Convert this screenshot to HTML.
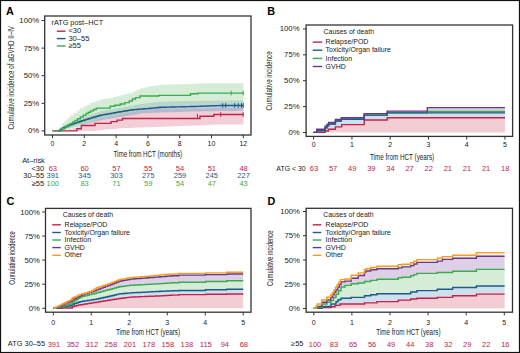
<!DOCTYPE html><html><head><meta charset="utf-8"><style>html,body{margin:0;padding:0;background:#fff}svg{display:block}text{font-family:"Liberation Sans",sans-serif}</style></head><body>
<svg width="520" height="353" viewBox="0 0 520 353">
<rect x="0" y="0" width="520" height="353" fill="#fff"/>
<text x="6.1" y="14.7" font-size="10.8" fill="#000" text-anchor="start" font-weight="bold">A</text>
<text x="267.3" y="14.8" font-size="10.8" fill="#000" text-anchor="start" font-weight="bold">B</text>
<text x="6.4" y="205.3" font-size="10.8" fill="#000" text-anchor="start" font-weight="bold">C</text>
<text x="267.4" y="205.4" font-size="10.8" fill="#000" text-anchor="start" font-weight="bold">D</text>
<path d="M62 130.9 L65 130.9 L65 130.12 L68 130.12 L68 129.34 L71 129.34 L71 128.56 L74 128.56 L74 127.78 L77 127.78 L77 127 L81.3 127 L81.3 122 L84.04 122 L84.04 121.2 L86.78 121.2 L86.78 120.4 L89.52 120.4 L89.52 119.6 L92.26 119.6 L92.26 118.8 L95 118.8 L95 118 L98.06 118 L98.06 117.33 L101.11 117.33 L101.11 116.67 L104.17 116.67 L104.17 116 L107.22 116 L107.22 115.33 L110.28 115.33 L110.28 114.67 L113.33 114.67 L113.33 114 L116.39 114 L116.39 113.33 L119.44 113.33 L119.44 112.67 L122.5 112.67 L122.5 112 L125.62 112 L125.62 111.71 L128.75 111.71 L128.75 111.42 L131.88 111.42 L131.88 111.12 L135 111.12 L135 110.83 L138.12 110.83 L138.12 110.54 L141.25 110.54 L141.25 110.25 L144.38 110.25 L144.38 109.96 L147.5 109.96 L147.5 109.67 L150.62 109.67 L150.62 109.38 L153.75 109.38 L153.75 109.08 L156.88 109.08 L156.88 108.79 L160 108.79 L160 108.5 L163.08 108.5 L163.08 108.48 L166.15 108.48 L166.15 108.47 L169.23 108.47 L169.23 108.45 L172.31 108.45 L172.31 108.44 L175.38 108.44 L175.38 108.42 L178.46 108.42 L178.46 108.41 L181.54 108.41 L181.54 108.39 L184.62 108.39 L184.62 108.38 L187.69 108.38 L187.69 108.36 L190.77 108.36 L190.77 108.35 L193.85 108.35 L193.85 108.33 L196.92 108.33 L196.92 108.32 L200 108.32 L200 108.3 L202.76 108.3 L202.76 108.2 L205.52 108.2 L205.52 108.1 L208.28 108.1 L208.28 108 L211.04 108 L211.04 107.9 L213.8 107.9 L213.8 107.8 L243.5 107.8 L243.5 124.5 L213.8 124.5 L213.8 124.77 L209.2 124.77 L209.2 125.03 L204.6 125.03 L204.6 125.3 L200 125.3 L200 125.44 L196.07 125.44 L196.07 125.59 L192.14 125.59 L192.14 125.73 L188.21 125.73 L188.21 125.87 L184.29 125.87 L184.29 126.01 L180.36 126.01 L180.36 126.16 L176.43 126.16 L176.43 126.3 L172.5 126.3 L172.5 126.44 L168.57 126.44 L168.57 126.59 L164.64 126.59 L164.64 126.73 L160.71 126.73 L160.71 126.87 L156.79 126.87 L156.79 127.01 L152.86 127.01 L152.86 127.16 L148.93 127.16 L148.93 127.3 L145 127.3 L145 127.45 L140.83 127.45 L140.83 127.6 L136.67 127.6 L136.67 127.75 L132.5 127.75 L132.5 127.9 L128.33 127.9 L128.33 128.05 L124.17 128.05 L124.17 128.2 L120 128.2 L120 128.54 L116 128.54 L116 128.88 L112 128.88 L112 129.22 L108 129.22 L108 129.56 L104 129.56 L104 129.9 L100 129.9 L100 130.4 L95 130.4 L95 130.9 L90 130.9Z" fill="#e8a7b4" fill-opacity="0.55"/>
<path d="M58 130.9 L62 130.9 L62 127 L64.67 127 L64.67 125.5 L67.33 125.5 L67.33 124 L70 124 L70 122.5 L73.33 122.5 L73.33 121 L76.67 121 L76.67 119.5 L80 119.5 L80 118 L82.86 118 L82.86 117 L85.71 117 L85.71 116 L88.57 116 L88.57 115 L91.43 115 L91.43 114 L94.29 114 L94.29 113 L97.14 113 L97.14 112 L100 112 L100 111 L103.08 111 L103.08 110.46 L106.15 110.46 L106.15 109.92 L109.23 109.92 L109.23 109.38 L112.31 109.38 L112.31 108.85 L115.38 108.85 L115.38 108.31 L118.46 108.31 L118.46 107.77 L121.54 107.77 L121.54 107.23 L124.62 107.23 L124.62 106.69 L127.69 106.69 L127.69 106.15 L130.77 106.15 L130.77 105.62 L133.85 105.62 L133.85 105.08 L136.92 105.08 L136.92 104.54 L140 104.54 L140 104 L142.86 104 L142.86 103.64 L145.71 103.64 L145.71 103.29 L148.57 103.29 L148.57 102.93 L151.43 102.93 L151.43 102.57 L154.29 102.57 L154.29 102.21 L157.14 102.21 L157.14 101.86 L160 101.86 L160 101.5 L163.08 101.5 L163.08 101.45 L166.15 101.45 L166.15 101.39 L169.23 101.39 L169.23 101.34 L172.31 101.34 L172.31 101.28 L175.38 101.28 L175.38 101.23 L178.46 101.23 L178.46 101.18 L181.54 101.18 L181.54 101.12 L184.62 101.12 L184.62 101.07 L187.69 101.07 L187.69 101.02 L190.77 101.02 L190.77 100.96 L193.85 100.96 L193.85 100.91 L196.92 100.91 L196.92 100.85 L200 100.85 L200 100.8 L203.07 100.8 L203.07 100.78 L206.14 100.78 L206.14 100.76 L209.21 100.76 L209.21 100.74 L212.29 100.74 L212.29 100.71 L215.36 100.71 L215.36 100.69 L218.43 100.69 L218.43 100.67 L221.5 100.67 L221.5 100.65 L224.57 100.65 L224.57 100.63 L227.64 100.63 L227.64 100.61 L230.71 100.61 L230.71 100.59 L233.79 100.59 L233.79 100.56 L236.86 100.56 L236.86 100.54 L239.93 100.54 L239.93 100.52 L243 100.52 L243 100.5 L243.5 100.5 L243.5 110.8 L243 110.8 L243 110.84 L239.93 110.84 L239.93 110.87 L236.86 110.87 L236.86 110.91 L233.79 110.91 L233.79 110.94 L230.71 110.94 L230.71 110.98 L227.64 110.98 L227.64 111.01 L224.57 111.01 L224.57 111.05 L221.5 111.05 L221.5 111.09 L218.43 111.09 L218.43 111.12 L215.36 111.12 L215.36 111.16 L212.29 111.16 L212.29 111.19 L209.21 111.19 L209.21 111.23 L206.14 111.23 L206.14 111.26 L203.07 111.26 L203.07 111.3 L200 111.3 L200 111.39 L196.92 111.39 L196.92 111.48 L193.85 111.48 L193.85 111.58 L190.77 111.58 L190.77 111.67 L187.69 111.67 L187.69 111.76 L184.62 111.76 L184.62 111.85 L181.54 111.85 L181.54 111.95 L178.46 111.95 L178.46 112.04 L175.38 112.04 L175.38 112.13 L172.31 112.13 L172.31 112.22 L169.23 112.22 L169.23 112.32 L166.15 112.32 L166.15 112.41 L163.08 112.41 L163.08 112.5 L160 112.5 L160 112.64 L157.14 112.64 L157.14 112.79 L154.29 112.79 L154.29 112.93 L151.43 112.93 L151.43 113.07 L148.57 113.07 L148.57 113.21 L145.71 113.21 L145.71 113.36 L142.86 113.36 L142.86 113.5 L140 113.5 L140 114 L136.92 114 L136.92 114.5 L133.85 114.5 L133.85 115 L130.77 115 L130.77 115.5 L127.69 115.5 L127.69 116 L124.62 116 L124.62 116.5 L121.54 116.5 L121.54 117 L118.46 117 L118.46 117.5 L115.38 117.5 L115.38 118 L112.31 118 L112.31 118.5 L109.23 118.5 L109.23 119 L106.15 119 L106.15 119.5 L103.08 119.5 L103.08 120 L100 120 L100 120.71 L97.14 120.71 L97.14 121.43 L94.29 121.43 L94.29 122.14 L91.43 122.14 L91.43 122.86 L88.57 122.86 L88.57 123.57 L85.71 123.57 L85.71 124.29 L82.86 124.29 L82.86 125 L80 125 L80 125.83 L76.67 125.83 L76.67 126.67 L73.33 126.67 L73.33 127.5 L70 127.5 L70 128.17 L67.33 128.17 L67.33 128.83 L64.67 128.83 L64.67 129.5 L62 129.5 L62 130.9 L58 130.9Z" fill="#7fa3c4" fill-opacity="0.5"/>
<path d="M57 130.9 L59.5 130.9 L59.5 126.95 L62 126.95 L62 123 L64.67 123 L64.67 120.4 L67.33 120.4 L67.33 117.8 L70 117.8 L70 115.2 L73.33 115.2 L73.33 112.9 L76.67 112.9 L76.67 110.6 L80 110.6 L80 108.3 L83.33 108.3 L83.33 106.53 L86.67 106.53 L86.67 104.77 L90 104.77 L90 103 L93.33 103 L93.33 101.87 L96.67 101.87 L96.67 100.73 L100 100.73 L100 99.6 L103.33 99.6 L103.33 99.03 L106.67 99.03 L106.67 98.47 L110 98.47 L110 97.9 L113.33 97.9 L113.33 97.03 L116.67 97.03 L116.67 96.17 L120 96.17 L120 95.3 L123.33 95.3 L123.33 94.43 L126.67 94.43 L126.67 93.57 L130 93.57 L130 92.7 L133.33 92.7 L133.33 91.27 L136.67 91.27 L136.67 89.83 L140 89.83 L140 88.4 L142.67 88.4 L142.67 87.77 L145.33 87.77 L145.33 87.13 L148 87.13 L148 86.5 L151 86.5 L151 86.08 L154 86.08 L154 85.65 L157 85.65 L157 85.22 L160 85.22 L160 84.8 L162.92 84.8 L162.92 84.72 L165.83 84.72 L165.83 84.63 L168.75 84.63 L168.75 84.55 L171.67 84.55 L171.67 84.47 L174.58 84.47 L174.58 84.38 L177.5 84.38 L177.5 84.3 L180.42 84.3 L180.42 84.22 L183.33 84.22 L183.33 84.13 L186.25 84.13 L186.25 84.05 L189.17 84.05 L189.17 83.97 L192.08 83.97 L192.08 83.88 L195 83.88 L195 83.8 L197.5 83.8 L197.5 83.55 L200 83.55 L200 83.3 L243 83.3 L243 83.3 L243.5 83.3 L243.5 104 L243 104 L243 104.04 L239.93 104.04 L239.93 104.07 L236.86 104.07 L236.86 104.11 L233.79 104.11 L233.79 104.14 L230.71 104.14 L230.71 104.18 L227.64 104.18 L227.64 104.21 L224.57 104.21 L224.57 104.25 L221.5 104.25 L221.5 104.29 L218.43 104.29 L218.43 104.32 L215.36 104.32 L215.36 104.36 L212.29 104.36 L212.29 104.39 L209.21 104.39 L209.21 104.43 L206.14 104.43 L206.14 104.46 L203.07 104.46 L203.07 104.5 L200 104.5 L200 104.62 L196.92 104.62 L196.92 104.73 L193.85 104.73 L193.85 104.85 L190.77 104.85 L190.77 104.96 L187.69 104.96 L187.69 105.08 L184.62 105.08 L184.62 105.19 L181.54 105.19 L181.54 105.31 L178.46 105.31 L178.46 105.42 L175.38 105.42 L175.38 105.54 L172.31 105.54 L172.31 105.65 L169.23 105.65 L169.23 105.77 L166.15 105.77 L166.15 105.88 L163.08 105.88 L163.08 106 L160 106 L160 106.62 L157 106.62 L157 107.25 L154 107.25 L154 107.88 L151 107.88 L151 108.5 L148 108.5 L148 109.12 L145 109.12 L145 109.75 L142 109.75 L142 110.38 L139 110.38 L139 111 L136 111 L136 111.62 L133 111.62 L133 112.25 L130 112.25 L130 112.88 L127 112.88 L127 113.5 L124 113.5 L124 114.12 L121 114.12 L121 114.75 L118 114.75 L118 115.38 L115 115.38 L115 116 L112 116 L112 116.62 L109 116.62 L109 117.25 L106 117.25 L106 117.88 L103 117.88 L103 118.5 L100 118.5 L100 119.57 L97.14 119.57 L97.14 120.64 L94.29 120.64 L94.29 121.71 L91.43 121.71 L91.43 122.79 L88.57 122.79 L88.57 123.86 L85.71 123.86 L85.71 124.93 L82.86 124.93 L82.86 126 L80 126 L80 126.7 L76.86 126.7 L76.86 127.4 L73.71 127.4 L73.71 128.1 L70.57 128.1 L70.57 128.8 L67.43 128.8 L67.43 129.5 L64.29 129.5 L64.29 130.2 L61.14 130.2 L61.14 130.9 L58 130.9Z" fill="#b3dcb5" fill-opacity="0.55"/>
<path d="M52.5 130.9H76.9V128.7H81.3V125.5H95V123.4H111V121.6H117.1V120.1H122.5V118.5H200V116.2H213.8V114.5H243.5" fill="none" stroke="#c2234a" stroke-width="1.4" stroke-linejoin="miter"/>
<path d="M58 130.9H60V129.55H62V128.2H64V127.32H66V126.45H68V125.58H70V124.7H72V124.02H74V123.34H76V122.66H78V121.98H80V121.3H82V120.66H84V120.02H86V119.38H88V118.74H90V118.1H92V117.52H94V116.94H96V116.36H98V115.78H100V115.2H102V114.86H104V114.52H106V114.18H108V113.84H110V113.5H112V113.14H114V112.78H116V112.42H118V112.06H120V111.7H122V111.36H124V111.02H126V110.68H128V110.34H130V110H132V109.82H134V109.64H136V109.46H138V109.28H140V109.1H142V108.95H144V108.8H146V108.65H148V108.5H150V108.3H152V108.1H154V107.9H156V107.7H158V107.5H160V107.3H162V107.25H164V107.2H166V107.15H168V107.1H170V107.05H172V107H174V106.95H176V106.9H178V106.85H180V106.8H182V106.75H184V106.7H186V106.65H188V106.6H190V106.55H192V106.5H194V106.45H196V106.4H198V106.35H200V106.3H202V106.22H204V106.14H206V106.06H208V105.98H210V105.9H212V105.82H214V105.74H216V105.66H218V105.58H220V105.5H243.5" fill="none" stroke="#1d5a88" stroke-width="1.4" stroke-linejoin="miter"/>
<path d="M52.5 130.9H61.75V128.7H65V126.5H67.5V125.05H70V123.6H72.5V121.97H75V120.33H77.5V118.7H80.33V116.97H83.17V115.23H86V113.5H88.35V112.2H90.7V110.9H93.5V109.5H96.3V108.1H110.2V106.3H114.8V105.2H120.2V104H124.8V102.6H129.3V101H132.4V99H135.5V97.6H140V96H158.8V95.4H190.5V93.8H198V93.1H243.5" fill="none" stroke="#3aab4f" stroke-width="1.4" stroke-linejoin="miter"/>
<line x1="220.7" y1="112.2" x2="220.7" y2="116.8" stroke="#c2234a" stroke-width="1"/>
<line x1="243.2" y1="112.2" x2="243.2" y2="116.8" stroke="#c2234a" stroke-width="1"/>
<line x1="197.4" y1="113.9" x2="197.4" y2="118.5" stroke="#c2234a" stroke-width="1"/>
<line x1="222.7" y1="103.2" x2="222.7" y2="107.8" stroke="#1d5a88" stroke-width="1"/>
<line x1="225.7" y1="103.2" x2="225.7" y2="107.8" stroke="#1d5a88" stroke-width="1"/>
<line x1="234.6" y1="103.2" x2="234.6" y2="107.8" stroke="#1d5a88" stroke-width="1"/>
<line x1="238.2" y1="103.2" x2="238.2" y2="107.8" stroke="#1d5a88" stroke-width="1"/>
<line x1="241.5" y1="103.2" x2="241.5" y2="107.8" stroke="#1d5a88" stroke-width="1"/>
<line x1="243.2" y1="103.2" x2="243.2" y2="107.8" stroke="#1d5a88" stroke-width="1"/>
<line x1="231.2" y1="90.8" x2="231.2" y2="95.4" stroke="#3aab4f" stroke-width="1"/>
<line x1="243.2" y1="90.8" x2="243.2" y2="95.4" stroke="#3aab4f" stroke-width="1"/>
<rect x="44.7" y="16" width="206.3" height="119" fill="none" stroke="#333333" stroke-width="1.3"/>
<line x1="41.5" y1="130.9" x2="44.7" y2="130.9" stroke="#333333" stroke-width="1"/>
<text transform="translate(39.2,133.4) scale(1.05,1)" font-size="7.4" fill="#222222" text-anchor="end">0%</text>
<line x1="41.5" y1="103.3" x2="44.7" y2="103.3" stroke="#333333" stroke-width="1"/>
<text transform="translate(39.2,105.8) scale(1.05,1)" font-size="7.4" fill="#222222" text-anchor="end">25%</text>
<line x1="41.5" y1="75.7" x2="44.7" y2="75.7" stroke="#333333" stroke-width="1"/>
<text transform="translate(39.2,78.2) scale(1.05,1)" font-size="7.4" fill="#222222" text-anchor="end">50%</text>
<line x1="41.5" y1="48.1" x2="44.7" y2="48.1" stroke="#333333" stroke-width="1"/>
<text transform="translate(39.2,50.6) scale(1.05,1)" font-size="7.4" fill="#222222" text-anchor="end">75%</text>
<line x1="41.5" y1="20.5" x2="44.7" y2="20.5" stroke="#333333" stroke-width="1"/>
<text transform="translate(39.2,23) scale(1.05,1)" font-size="7.4" fill="#222222" text-anchor="end">100%</text>
<line x1="52.5" y1="135" x2="52.5" y2="138.2" stroke="#333333" stroke-width="1"/>
<text x="52.5" y="146.3" font-size="7" fill="#222222" text-anchor="middle" font-weight="normal">0</text>
<line x1="84.3" y1="135" x2="84.3" y2="138.2" stroke="#333333" stroke-width="1"/>
<text x="84.3" y="146.3" font-size="7" fill="#222222" text-anchor="middle" font-weight="normal">2</text>
<line x1="116.1" y1="135" x2="116.1" y2="138.2" stroke="#333333" stroke-width="1"/>
<text x="116.1" y="146.3" font-size="7" fill="#222222" text-anchor="middle" font-weight="normal">4</text>
<line x1="147.9" y1="135" x2="147.9" y2="138.2" stroke="#333333" stroke-width="1"/>
<text x="147.9" y="146.3" font-size="7" fill="#222222" text-anchor="middle" font-weight="normal">6</text>
<line x1="179.7" y1="135" x2="179.7" y2="138.2" stroke="#333333" stroke-width="1"/>
<text x="179.7" y="146.3" font-size="7" fill="#222222" text-anchor="middle" font-weight="normal">8</text>
<line x1="211.5" y1="135" x2="211.5" y2="138.2" stroke="#333333" stroke-width="1"/>
<text x="211.5" y="146.3" font-size="7" fill="#222222" text-anchor="middle" font-weight="normal">10</text>
<line x1="243.3" y1="135" x2="243.3" y2="138.2" stroke="#333333" stroke-width="1"/>
<text x="243.3" y="146.3" font-size="7" fill="#222222" text-anchor="middle" font-weight="normal">12</text>
<text x="113.5" y="156.5" font-size="8.3" fill="#222222" text-anchor="start" font-weight="normal" textLength="68.6" lengthAdjust="spacingAndGlyphs">Time from HCT (months)</text>
<text transform="translate(13.9,77.7) rotate(-90)" x="0" y="0" font-size="9.8" fill="#222222" text-anchor="middle" textLength="103.4" lengthAdjust="spacingAndGlyphs">Cumulative incidence of aGVHD II–IV</text>
<text x="51.5" y="24.8" font-size="7.2" fill="#222222" text-anchor="start" font-weight="normal" textLength="51.6" lengthAdjust="spacingAndGlyphs">rATG post–HCT</text>
<line x1="56.8" y1="31.2" x2="65.5" y2="31.2" stroke="#c2234a" stroke-width="1.4"/>
<text x="68.4" y="33.3" font-size="7.6" fill="#222222" text-anchor="start" font-weight="normal">&lt;30</text>
<line x1="56.8" y1="38.6" x2="65.5" y2="38.6" stroke="#1d5a88" stroke-width="1.4"/>
<text x="68.4" y="40.7" font-size="7.6" fill="#222222" text-anchor="start" font-weight="normal">30–55</text>
<line x1="56.8" y1="46" x2="65.5" y2="46" stroke="#3aab4f" stroke-width="1.4"/>
<text x="68.4" y="48.1" font-size="7.6" fill="#222222" text-anchor="start" font-weight="normal">≥55</text>
<text x="22.2" y="162.7" font-size="7" fill="#222222" text-anchor="start" font-weight="normal" textLength="22.6" lengthAdjust="spacingAndGlyphs">At–risk</text>
<text x="44.2" y="170.6" font-size="7.5" fill="#222222" text-anchor="end" font-weight="normal">&lt;30</text>
<text x="44.2" y="178.3" font-size="7.5" fill="#222222" text-anchor="end" font-weight="normal">30–55</text>
<text x="44.2" y="186" font-size="7.5" fill="#222222" text-anchor="end" font-weight="normal">≥55</text>
<text x="52.8" y="170.6" font-size="7.5" fill="#c2234a" text-anchor="middle" font-weight="normal">63</text>
<text x="52.8" y="178.3" font-size="7.5" fill="#1d5a88" text-anchor="middle" font-weight="normal">391</text>
<text x="52.8" y="186" font-size="7.5" fill="#3aab4f" text-anchor="middle" font-weight="normal">100</text>
<text x="84.6" y="170.6" font-size="7.5" fill="#c2234a" text-anchor="middle" font-weight="normal">60</text>
<text x="84.6" y="178.3" font-size="7.5" fill="#1d5a88" text-anchor="middle" font-weight="normal">345</text>
<text x="84.6" y="186" font-size="7.5" fill="#3aab4f" text-anchor="middle" font-weight="normal">83</text>
<text x="116.4" y="170.6" font-size="7.5" fill="#c2234a" text-anchor="middle" font-weight="normal">57</text>
<text x="116.4" y="178.3" font-size="7.5" fill="#1d5a88" text-anchor="middle" font-weight="normal">303</text>
<text x="116.4" y="186" font-size="7.5" fill="#3aab4f" text-anchor="middle" font-weight="normal">71</text>
<text x="148.2" y="170.6" font-size="7.5" fill="#c2234a" text-anchor="middle" font-weight="normal">55</text>
<text x="148.2" y="178.3" font-size="7.5" fill="#1d5a88" text-anchor="middle" font-weight="normal">275</text>
<text x="148.2" y="186" font-size="7.5" fill="#3aab4f" text-anchor="middle" font-weight="normal">59</text>
<text x="180" y="170.6" font-size="7.5" fill="#c2234a" text-anchor="middle" font-weight="normal">54</text>
<text x="180" y="178.3" font-size="7.5" fill="#1d5a88" text-anchor="middle" font-weight="normal">259</text>
<text x="180" y="186" font-size="7.5" fill="#3aab4f" text-anchor="middle" font-weight="normal">54</text>
<text x="211.8" y="170.6" font-size="7.5" fill="#c2234a" text-anchor="middle" font-weight="normal">51</text>
<text x="211.8" y="178.3" font-size="7.5" fill="#1d5a88" text-anchor="middle" font-weight="normal">245</text>
<text x="211.8" y="186" font-size="7.5" fill="#3aab4f" text-anchor="middle" font-weight="normal">47</text>
<text x="243.6" y="170.6" font-size="7.5" fill="#c2234a" text-anchor="middle" font-weight="normal">48</text>
<text x="243.6" y="178.3" font-size="7.5" fill="#1d5a88" text-anchor="middle" font-weight="normal">227</text>
<text x="243.6" y="186" font-size="7.5" fill="#3aab4f" text-anchor="middle" font-weight="normal">43</text>
<path d="M313.6 132.4 L325.1 132.4 L325.1 131 L328.3 131 L328.3 129.3 L335.4 129.3 L335.4 126.9 L341.7 126.9 L341.7 124.6 L364.2 124.6 L364.2 120 L387.2 120 L387.2 117.7 L505 117.7 L505 132.4 L313.6 132.4Z" fill="#f2cdd4"/>
<path d="M313.6 132.4 L316.7 132.4 L316.7 130.8 L325.1 130.8 L325.1 127.7 L327 127.7 L327 125.8 L328.7 125.8 L328.7 124 L335.4 124 L335.4 121 L341.3 121 L341.3 119.2 L364.2 119.2 L364.2 115.1 L387.2 115.1 L387.2 112.9 L505 112.9 L505 117.7 L387.2 117.7 L387.2 120 L364.2 120 L364.2 124.6 L341.7 124.6 L341.7 126.9 L335.4 126.9 L335.4 129.3 L328.3 129.3 L328.3 131 L325.1 131 L325.1 132.4 L313.6 132.4Z" fill="#cfe0ec"/>
<path d="M313.6 132.4 L316.7 132.4 L316.7 130.8 L325.1 130.8 L325.1 127.7 L327 127.7 L327 125.8 L328.7 125.8 L328.7 124 L335.4 124 L335.4 121 L341.3 121 L341.3 119.2 L364.2 119.2 L364.2 115.1 L387.2 115.1 L387.2 112.9 L427.3 112.9 L427.3 111.5 L505 111.5 L505 112.9 L387.2 112.9 L387.2 115.1 L364.2 115.1 L364.2 119.2 L341.3 119.2 L341.3 121 L335.4 121 L335.4 124 L328.7 124 L328.7 125.8 L327 125.8 L327 127.7 L325.1 127.7 L325.1 130.8 L316.7 130.8 L316.7 132.4 L313.6 132.4Z" fill="#d5ecd6"/>
<path d="M313.6 132.4 L316.7 132.4 L316.7 129.3 L325.1 129.3 L325.1 126.2 L327 126.2 L327 124.3 L328.7 124.3 L328.7 122.5 L335.4 122.5 L335.4 119.5 L341.3 119.5 L341.3 117.7 L364.2 117.7 L364.2 113.6 L387.2 113.6 L387.2 111.1 L427.3 111.1 L427.3 107.6 L505 107.6 L505 111.5 L427.3 111.5 L427.3 112.9 L387.2 112.9 L387.2 115.1 L364.2 115.1 L364.2 119.2 L341.3 119.2 L341.3 121 L335.4 121 L335.4 124 L328.7 124 L328.7 125.8 L327 125.8 L327 127.7 L325.1 127.7 L325.1 130.8 L316.7 130.8 L316.7 132.4 L313.6 132.4Z" fill="#ddd0e6"/>
<path d="M313.6 132.4H325.1V131H328.3V129.3H335.4V126.9H341.7V124.6H364.2V120H387.2V117.7H505" fill="none" stroke="#c2234a" stroke-width="1.4" stroke-linejoin="miter"/>
<path d="M313.6 132.4H316.7V130.8H325.1V127.7H327V125.8H328.7V124H335.4V121H341.3V119.2H364.2V115.1H387.2V112.9H427.3V111.5H505" fill="none" stroke="#3aab4f" stroke-width="1.4" stroke-linejoin="miter"/>
<path d="M313.6 132.4H316.7V130.8H325.1V127.7H327V125.8H328.7V124H335.4V121H341.3V119.2H364.2V115.1H387.2V112.9H505" fill="none" stroke="#1d5a88" stroke-width="1.4" stroke-linejoin="miter"/>
<path d="M313.6 132.4H316.7V129.3H325.1V126.2H327V124.3H328.7V122.5H335.4V119.5H341.3V117.7H364.2V113.6H387.2V111.1H427.3V107.6H505" fill="none" stroke="#66398a" stroke-width="1.4" stroke-linejoin="miter"/>
<rect x="306.1" y="25" width="206.5" height="111.4" fill="none" stroke="#333333" stroke-width="1.3"/>
<line x1="303" y1="132.5" x2="306.2" y2="132.5" stroke="#333333" stroke-width="1"/>
<text transform="translate(299.6,135) scale(1.05,1)" font-size="7.4" fill="#222222" text-anchor="end">0%</text>
<line x1="303" y1="106.6" x2="306.2" y2="106.6" stroke="#333333" stroke-width="1"/>
<text transform="translate(299.6,109.1) scale(1.05,1)" font-size="7.4" fill="#222222" text-anchor="end">25%</text>
<line x1="303" y1="80.7" x2="306.2" y2="80.7" stroke="#333333" stroke-width="1"/>
<text transform="translate(299.6,83.2) scale(1.05,1)" font-size="7.4" fill="#222222" text-anchor="end">50%</text>
<line x1="303" y1="54.8" x2="306.2" y2="54.8" stroke="#333333" stroke-width="1"/>
<text transform="translate(299.6,57.3) scale(1.05,1)" font-size="7.4" fill="#222222" text-anchor="end">75%</text>
<line x1="303" y1="28.9" x2="306.2" y2="28.9" stroke="#333333" stroke-width="1"/>
<text transform="translate(299.6,31.4) scale(1.05,1)" font-size="7.4" fill="#222222" text-anchor="end">100%</text>
<line x1="313.7" y1="136.4" x2="313.7" y2="139.6" stroke="#333333" stroke-width="1"/>
<text x="313.7" y="147.4" font-size="7" fill="#222222" text-anchor="middle" font-weight="normal">0</text>
<line x1="351.95" y1="136.4" x2="351.95" y2="139.6" stroke="#333333" stroke-width="1"/>
<text x="351.95" y="147.4" font-size="7" fill="#222222" text-anchor="middle" font-weight="normal">1</text>
<line x1="390.2" y1="136.4" x2="390.2" y2="139.6" stroke="#333333" stroke-width="1"/>
<text x="390.2" y="147.4" font-size="7" fill="#222222" text-anchor="middle" font-weight="normal">2</text>
<line x1="428.45" y1="136.4" x2="428.45" y2="139.6" stroke="#333333" stroke-width="1"/>
<text x="428.45" y="147.4" font-size="7" fill="#222222" text-anchor="middle" font-weight="normal">3</text>
<line x1="466.7" y1="136.4" x2="466.7" y2="139.6" stroke="#333333" stroke-width="1"/>
<text x="466.7" y="147.4" font-size="7" fill="#222222" text-anchor="middle" font-weight="normal">4</text>
<line x1="504.95" y1="136.4" x2="504.95" y2="139.6" stroke="#333333" stroke-width="1"/>
<text x="504.95" y="147.4" font-size="7" fill="#222222" text-anchor="middle" font-weight="normal">5</text>
<text x="370" y="160.4" font-size="8.3" fill="#222222" text-anchor="start" font-weight="normal" textLength="64.2" lengthAdjust="spacingAndGlyphs">Time from HCT (years)</text>
<text transform="translate(272.4,80.95) rotate(-90)" x="0" y="0" font-size="9.4" fill="#222222" text-anchor="middle" textLength="59.1" lengthAdjust="spacingAndGlyphs">Cumulative incidence</text>
<text x="323.6" y="33.8" font-size="7" fill="#222222" text-anchor="start" font-weight="normal" textLength="50.4" lengthAdjust="spacingAndGlyphs">Causes of death</text>
<line x1="312.7" y1="42.1" x2="322.3" y2="42.1" stroke="#c2234a" stroke-width="1.4"/>
<text x="325.6" y="44.2" font-size="7" fill="#222222" text-anchor="start" font-weight="normal">Relapse/POD</text>
<line x1="312.7" y1="50.2" x2="322.3" y2="50.2" stroke="#1d5a88" stroke-width="1.4"/>
<text x="325.6" y="52.3" font-size="7" fill="#222222" text-anchor="start" font-weight="normal">Toxicity/Organ failure</text>
<line x1="312.7" y1="58.4" x2="322.3" y2="58.4" stroke="#3aab4f" stroke-width="1.4"/>
<text x="325.6" y="60.5" font-size="7" fill="#222222" text-anchor="start" font-weight="normal">Infection</text>
<line x1="312.7" y1="66.5" x2="322.3" y2="66.5" stroke="#66398a" stroke-width="1.4"/>
<text x="325.6" y="68.6" font-size="7" fill="#222222" text-anchor="start" font-weight="normal">GVHD</text>
<text x="276.3" y="170.5" font-size="7" fill="#222222" text-anchor="start" font-weight="normal" textLength="29.4" lengthAdjust="spacingAndGlyphs">ATG &lt; 30</text>
<text x="314" y="170.8" font-size="7.5" fill="#c2234a" text-anchor="middle" font-weight="normal">63</text>
<text x="333.12" y="170.8" font-size="7.5" fill="#c2234a" text-anchor="middle" font-weight="normal">57</text>
<text x="352.25" y="170.8" font-size="7.5" fill="#c2234a" text-anchor="middle" font-weight="normal">49</text>
<text x="371.38" y="170.8" font-size="7.5" fill="#c2234a" text-anchor="middle" font-weight="normal">39</text>
<text x="390.5" y="170.8" font-size="7.5" fill="#c2234a" text-anchor="middle" font-weight="normal">34</text>
<text x="409.62" y="170.8" font-size="7.5" fill="#c2234a" text-anchor="middle" font-weight="normal">27</text>
<text x="428.75" y="170.8" font-size="7.5" fill="#c2234a" text-anchor="middle" font-weight="normal">22</text>
<text x="447.88" y="170.8" font-size="7.5" fill="#c2234a" text-anchor="middle" font-weight="normal">21</text>
<text x="467" y="170.8" font-size="7.5" fill="#c2234a" text-anchor="middle" font-weight="normal">21</text>
<text x="486.12" y="170.8" font-size="7.5" fill="#c2234a" text-anchor="middle" font-weight="normal">21</text>
<text x="505.25" y="170.8" font-size="7.5" fill="#c2234a" text-anchor="middle" font-weight="normal">18</text>
<path d="M53.3 308.3 L55.39 308.3 L55.39 308.26 L57.47 308.26 L57.47 308.23 L59.56 308.23 L59.56 308.19 L61.65 308.19 L61.65 308.15 L63.74 308.15 L63.74 308.11 L65.83 308.11 L65.83 308.07 L67.91 308.07 L67.91 308.04 L70 308.04 L70 308 L72.3 308 L72.3 306.5 L74.22 306.5 L74.22 306.05 L76.15 306.05 L76.15 305.6 L78.08 305.6 L78.08 305.15 L80 305.15 L80 304.7 L82.33 304.7 L82.33 304.33 L84.66 304.33 L84.66 303.96 L86.99 303.96 L86.99 303.59 L89.31 303.59 L89.31 303.21 L91.64 303.21 L91.64 302.84 L93.97 302.84 L93.97 302.47 L96.3 302.47 L96.3 302.1 L98.6 302.1 L98.6 301.73 L100.9 301.73 L100.9 301.35 L103.2 301.35 L103.2 300.98 L105.5 300.98 L105.5 300.6 L107.72 300.6 L107.72 300.25 L109.93 300.25 L109.93 299.9 L112.15 299.9 L112.15 299.55 L114.37 299.55 L114.37 299.2 L116.58 299.2 L116.58 298.85 L118.8 298.85 L118.8 298.5 L121.04 298.5 L121.04 298.22 L123.28 298.22 L123.28 297.94 L125.52 297.94 L125.52 297.66 L127.76 297.66 L127.76 297.38 L130 297.38 L130 297.1 L132.13 297.1 L132.13 297.01 L134.27 297.01 L134.27 296.93 L136.4 296.93 L136.4 296.84 L138.53 296.84 L138.53 296.75 L140.67 296.75 L140.67 296.67 L142.8 296.67 L142.8 296.58 L144.93 296.58 L144.93 296.49 L147.07 296.49 L147.07 296.41 L149.2 296.41 L149.2 296.32 L151.33 296.32 L151.33 296.23 L153.47 296.23 L153.47 296.15 L155.6 296.15 L155.6 296.06 L157.73 296.06 L157.73 295.97 L159.87 295.97 L159.87 295.89 L162 295.89 L162 295.8 L164 295.8 L164 295.66 L166 295.66 L166 295.52 L168 295.52 L168 295.38 L170 295.38 L170 295.24 L172 295.24 L172 295.1 L178.8 295.1 L178.8 294.6 L205.5 294.6 L205.5 294.3 L226.7 294.3 L226.7 294 L243.2 294 L243.2 308.3 L53.3 308.3Z" fill="#f2cdd4"/>
<path d="M53.3 308.3 L55.53 308.3 L55.53 308.03 L57.77 308.03 L57.77 307.77 L60 307.77 L60 307.5 L62 307.5 L62 307.14 L64 307.14 L64 306.78 L66 306.78 L66 306.42 L68 306.42 L68 306.06 L70 306.06 L70 305.7 L72.3 305.7 L72.3 304.3 L74.22 304.3 L74.22 303.62 L76.15 303.62 L76.15 302.95 L78.08 302.95 L78.08 302.28 L80 302.28 L80 301.6 L82.33 301.6 L82.33 301.23 L84.66 301.23 L84.66 300.86 L86.99 300.86 L86.99 300.49 L89.31 300.49 L89.31 300.11 L91.64 300.11 L91.64 299.74 L93.97 299.74 L93.97 299.37 L96.3 299.37 L96.3 299 L98.6 299 L98.6 298.5 L100.9 298.5 L100.9 298 L103.2 298 L103.2 297.5 L105.5 297.5 L105.5 297 L107.72 297 L107.72 296.48 L109.93 296.48 L109.93 295.97 L112.15 295.97 L112.15 295.45 L114.37 295.45 L114.37 294.93 L116.58 294.93 L116.58 294.42 L118.8 294.42 L118.8 293.9 L121.04 293.9 L121.04 293.7 L123.28 293.7 L123.28 293.5 L125.52 293.5 L125.52 293.3 L127.76 293.3 L127.76 293.1 L130 293.1 L130 292.9 L132.13 292.9 L132.13 292.79 L134.27 292.79 L134.27 292.67 L136.4 292.67 L136.4 292.56 L138.53 292.56 L138.53 292.45 L140.67 292.45 L140.67 292.33 L142.8 292.33 L142.8 292.22 L144.93 292.22 L144.93 292.11 L147.07 292.11 L147.07 291.99 L149.2 291.99 L149.2 291.88 L151.33 291.88 L151.33 291.77 L153.47 291.77 L153.47 291.65 L155.6 291.65 L155.6 291.54 L157.73 291.54 L157.73 291.43 L159.87 291.43 L159.87 291.31 L162 291.31 L162 291.2 L164 291.2 L164 291.12 L166 291.12 L166 291.04 L168 291.04 L168 290.96 L170 290.96 L170 290.88 L172 290.88 L172 290.8 L178.8 290.8 L178.8 290.5 L205.5 290.5 L205.5 289.7 L226.7 289.7 L226.7 289.2 L243.2 289.2 L243.2 294 L226.7 294 L226.7 294.3 L205.5 294.3 L205.5 294.6 L178.8 294.6 L178.8 295.1 L172 295.1 L172 295.24 L170 295.24 L170 295.38 L168 295.38 L168 295.52 L166 295.52 L166 295.66 L164 295.66 L164 295.8 L162 295.8 L162 295.89 L159.87 295.89 L159.87 295.97 L157.73 295.97 L157.73 296.06 L155.6 296.06 L155.6 296.15 L153.47 296.15 L153.47 296.23 L151.33 296.23 L151.33 296.32 L149.2 296.32 L149.2 296.41 L147.07 296.41 L147.07 296.49 L144.93 296.49 L144.93 296.58 L142.8 296.58 L142.8 296.67 L140.67 296.67 L140.67 296.75 L138.53 296.75 L138.53 296.84 L136.4 296.84 L136.4 296.93 L134.27 296.93 L134.27 297.01 L132.13 297.01 L132.13 297.1 L130 297.1 L130 297.38 L127.76 297.38 L127.76 297.66 L125.52 297.66 L125.52 297.94 L123.28 297.94 L123.28 298.22 L121.04 298.22 L121.04 298.5 L118.8 298.5 L118.8 298.85 L116.58 298.85 L116.58 299.2 L114.37 299.2 L114.37 299.55 L112.15 299.55 L112.15 299.9 L109.93 299.9 L109.93 300.25 L107.72 300.25 L107.72 300.6 L105.5 300.6 L105.5 300.98 L103.2 300.98 L103.2 301.35 L100.9 301.35 L100.9 301.73 L98.6 301.73 L98.6 302.1 L96.3 302.1 L96.3 302.47 L93.97 302.47 L93.97 302.84 L91.64 302.84 L91.64 303.21 L89.31 303.21 L89.31 303.59 L86.99 303.59 L86.99 303.96 L84.66 303.96 L84.66 304.33 L82.33 304.33 L82.33 304.7 L80 304.7 L80 305.15 L78.08 305.15 L78.08 305.6 L76.15 305.6 L76.15 306.05 L74.22 306.05 L74.22 306.5 L72.3 306.5 L72.3 308 L70 308 L70 308.04 L67.91 308.04 L67.91 308.07 L65.83 308.07 L65.83 308.11 L63.74 308.11 L63.74 308.15 L61.65 308.15 L61.65 308.19 L59.56 308.19 L59.56 308.23 L57.47 308.23 L57.47 308.26 L55.39 308.26 L55.39 308.3 L53.3 308.3Z" fill="#cfe0ec"/>
<path d="M53.3 308.3 L55.53 308.3 L55.53 307.8 L57.77 307.8 L57.77 307.3 L60 307.3 L60 306.8 L62 306.8 L62 306.24 L64 306.24 L64 305.68 L66 305.68 L66 305.12 L68 305.12 L68 304.56 L70 304.56 L70 304 L72.3 304 L72.3 302 L74.22 302 L74.22 300.75 L76.15 300.75 L76.15 299.5 L78.08 299.5 L78.08 298.25 L80 298.25 L80 297 L82.33 297 L82.33 296.41 L84.66 296.41 L84.66 295.83 L86.99 295.83 L86.99 295.24 L89.31 295.24 L89.31 294.66 L91.64 294.66 L91.64 294.07 L93.97 294.07 L93.97 293.49 L96.3 293.49 L96.3 292.9 L98.6 292.9 L98.6 292.27 L100.9 292.27 L100.9 291.65 L103.2 291.65 L103.2 291.02 L105.5 291.02 L105.5 290.4 L107.72 290.4 L107.72 289.8 L109.93 289.8 L109.93 289.2 L112.15 289.2 L112.15 288.6 L114.37 288.6 L114.37 288 L116.58 288 L116.58 287.4 L118.8 287.4 L118.8 286.8 L121.04 286.8 L121.04 286.5 L123.28 286.5 L123.28 286.2 L125.52 286.2 L125.52 285.9 L127.76 285.9 L127.76 285.6 L130 285.6 L130 285.3 L132.13 285.3 L132.13 285.18 L134.27 285.18 L134.27 285.06 L136.4 285.06 L136.4 284.94 L138.53 284.94 L138.53 284.82 L140.67 284.82 L140.67 284.7 L142.8 284.7 L142.8 284.58 L144.93 284.58 L144.93 284.46 L147.07 284.46 L147.07 284.34 L149.2 284.34 L149.2 284.22 L151.33 284.22 L151.33 284.1 L153.47 284.1 L153.47 283.98 L155.6 283.98 L155.6 283.86 L157.73 283.86 L157.73 283.74 L159.87 283.74 L159.87 283.62 L162 283.62 L162 283.5 L164 283.5 L164 283.36 L166 283.36 L166 283.22 L168 283.22 L168 283.08 L170 283.08 L170 282.94 L172 282.94 L172 282.8 L178.8 282.8 L178.8 282.3 L205.5 282.3 L205.5 281.5 L226.7 281.5 L226.7 280.8 L243.2 280.8 L243.2 289.2 L226.7 289.2 L226.7 289.7 L205.5 289.7 L205.5 290.5 L178.8 290.5 L178.8 290.8 L172 290.8 L172 290.88 L170 290.88 L170 290.96 L168 290.96 L168 291.04 L166 291.04 L166 291.12 L164 291.12 L164 291.2 L162 291.2 L162 291.31 L159.87 291.31 L159.87 291.43 L157.73 291.43 L157.73 291.54 L155.6 291.54 L155.6 291.65 L153.47 291.65 L153.47 291.77 L151.33 291.77 L151.33 291.88 L149.2 291.88 L149.2 291.99 L147.07 291.99 L147.07 292.11 L144.93 292.11 L144.93 292.22 L142.8 292.22 L142.8 292.33 L140.67 292.33 L140.67 292.45 L138.53 292.45 L138.53 292.56 L136.4 292.56 L136.4 292.67 L134.27 292.67 L134.27 292.79 L132.13 292.79 L132.13 292.9 L130 292.9 L130 293.1 L127.76 293.1 L127.76 293.3 L125.52 293.3 L125.52 293.5 L123.28 293.5 L123.28 293.7 L121.04 293.7 L121.04 293.9 L118.8 293.9 L118.8 294.42 L116.58 294.42 L116.58 294.93 L114.37 294.93 L114.37 295.45 L112.15 295.45 L112.15 295.97 L109.93 295.97 L109.93 296.48 L107.72 296.48 L107.72 297 L105.5 297 L105.5 297.5 L103.2 297.5 L103.2 298 L100.9 298 L100.9 298.5 L98.6 298.5 L98.6 299 L96.3 299 L96.3 299.37 L93.97 299.37 L93.97 299.74 L91.64 299.74 L91.64 300.11 L89.31 300.11 L89.31 300.49 L86.99 300.49 L86.99 300.86 L84.66 300.86 L84.66 301.23 L82.33 301.23 L82.33 301.6 L80 301.6 L80 302.28 L78.08 302.28 L78.08 302.95 L76.15 302.95 L76.15 303.62 L74.22 303.62 L74.22 304.3 L72.3 304.3 L72.3 305.7 L70 305.7 L70 306.06 L68 306.06 L68 306.42 L66 306.42 L66 306.78 L64 306.78 L64 307.14 L62 307.14 L62 307.5 L60 307.5 L60 307.77 L57.77 307.77 L57.77 308.03 L55.53 308.03 L55.53 308.3 L53.3 308.3Z" fill="#d5ecd6"/>
<path d="M53.3 308.3 L55.53 308.3 L55.53 307.47 L57.77 307.47 L57.77 306.63 L60 306.63 L60 305.8 L62.16 305.8 L62.16 304.84 L64.32 304.84 L64.32 303.88 L66.48 303.88 L66.48 302.92 L68.64 302.92 L68.64 301.96 L70.8 301.96 L70.8 301 L72.3 301 L72.3 299.5 L74.22 299.5 L74.22 298.5 L76.15 298.5 L76.15 297.5 L78.08 297.5 L78.08 296.5 L80 296.5 L80 295.5 L82.33 295.5 L82.33 294.7 L84.66 294.7 L84.66 293.9 L86.99 293.9 L86.99 293.1 L89.31 293.1 L89.31 292.3 L91.64 292.3 L91.64 291.5 L93.97 291.5 L93.97 290.7 L96.3 290.7 L96.3 289.9 L98.55 289.9 L98.55 289.03 L100.8 289.03 L100.8 288.16 L103.05 288.16 L103.05 287.29 L105.3 287.29 L105.3 286.42 L107.55 286.42 L107.55 285.55 L109.8 285.55 L109.8 284.68 L112.05 284.68 L112.05 283.81 L114.3 283.81 L114.3 282.94 L116.55 282.94 L116.55 282.07 L118.8 282.07 L118.8 281.2 L121.04 281.2 L121.04 280.78 L123.28 280.78 L123.28 280.36 L125.52 280.36 L125.52 279.94 L127.76 279.94 L127.76 279.52 L130 279.52 L130 279.1 L132.13 279.1 L132.13 278.93 L134.27 278.93 L134.27 278.77 L136.4 278.77 L136.4 278.6 L138.53 278.6 L138.53 278.43 L140.67 278.43 L140.67 278.27 L142.8 278.27 L142.8 278.1 L144.93 278.1 L144.93 277.93 L147.07 277.93 L147.07 277.77 L149.2 277.77 L149.2 277.6 L151.33 277.6 L151.33 277.43 L153.47 277.43 L153.47 277.27 L155.6 277.27 L155.6 277.1 L157.73 277.1 L157.73 276.93 L159.87 276.93 L159.87 276.77 L162 276.77 L162 276.6 L164 276.6 L164 276.44 L166 276.44 L166 276.28 L168 276.28 L168 276.12 L170 276.12 L170 275.96 L172 275.96 L172 275.8 L178.8 275.8 L178.8 275.1 L205.5 275.1 L205.5 274.6 L226.7 274.6 L226.7 274 L243.2 274 L243.2 280.8 L226.7 280.8 L226.7 281.5 L205.5 281.5 L205.5 282.3 L178.8 282.3 L178.8 282.8 L172 282.8 L172 282.94 L170 282.94 L170 283.08 L168 283.08 L168 283.22 L166 283.22 L166 283.36 L164 283.36 L164 283.5 L162 283.5 L162 283.62 L159.87 283.62 L159.87 283.74 L157.73 283.74 L157.73 283.86 L155.6 283.86 L155.6 283.98 L153.47 283.98 L153.47 284.1 L151.33 284.1 L151.33 284.22 L149.2 284.22 L149.2 284.34 L147.07 284.34 L147.07 284.46 L144.93 284.46 L144.93 284.58 L142.8 284.58 L142.8 284.7 L140.67 284.7 L140.67 284.82 L138.53 284.82 L138.53 284.94 L136.4 284.94 L136.4 285.06 L134.27 285.06 L134.27 285.18 L132.13 285.18 L132.13 285.3 L130 285.3 L130 285.6 L127.76 285.6 L127.76 285.9 L125.52 285.9 L125.52 286.2 L123.28 286.2 L123.28 286.5 L121.04 286.5 L121.04 286.8 L118.8 286.8 L118.8 287.4 L116.58 287.4 L116.58 288 L114.37 288 L114.37 288.6 L112.15 288.6 L112.15 289.2 L109.93 289.2 L109.93 289.8 L107.72 289.8 L107.72 290.4 L105.5 290.4 L105.5 291.02 L103.2 291.02 L103.2 291.65 L100.9 291.65 L100.9 292.27 L98.6 292.27 L98.6 292.9 L96.3 292.9 L96.3 293.49 L93.97 293.49 L93.97 294.07 L91.64 294.07 L91.64 294.66 L89.31 294.66 L89.31 295.24 L86.99 295.24 L86.99 295.83 L84.66 295.83 L84.66 296.41 L82.33 296.41 L82.33 297 L80 297 L80 298.25 L78.08 298.25 L78.08 299.5 L76.15 299.5 L76.15 300.75 L74.22 300.75 L74.22 302 L72.3 302 L72.3 304 L70 304 L70 304.56 L68 304.56 L68 305.12 L66 305.12 L66 305.68 L64 305.68 L64 306.24 L62 306.24 L62 306.8 L60 306.8 L60 307.3 L57.77 307.3 L57.77 307.8 L55.53 307.8 L55.53 308.3 L53.3 308.3Z" fill="#ddd0e6"/>
<path d="M53.3 308.3 L55.53 308.3 L55.53 307.17 L57.77 307.17 L57.77 306.03 L60 306.03 L60 304.9 L62.16 304.9 L62.16 303.82 L64.32 303.82 L64.32 302.74 L66.48 302.74 L66.48 301.66 L68.64 301.66 L68.64 300.58 L70.8 300.58 L70.8 299.5 L72.3 299.5 L72.3 297.8 L74.22 297.8 L74.22 296.95 L76.15 296.95 L76.15 296.1 L78.08 296.1 L78.08 295.25 L80 295.25 L80 294.4 L82.04 294.4 L82.04 293.8 L84.08 293.8 L84.08 293.2 L86.12 293.2 L86.12 292.6 L88.16 292.6 L88.16 292 L90.2 292 L90.2 291.4 L92.23 291.4 L92.23 290.2 L94.27 290.2 L94.27 289 L96.3 289 L96.3 287.8 L98.6 287.8 L98.6 287.05 L100.9 287.05 L100.9 286.3 L103.2 286.3 L103.2 285.55 L105.5 285.55 L105.5 284.8 L107.72 284.8 L107.72 283.95 L109.93 283.95 L109.93 283.1 L112.15 283.1 L112.15 282.25 L114.37 282.25 L114.37 281.4 L116.58 281.4 L116.58 280.55 L118.8 280.55 L118.8 279.7 L121.04 279.7 L121.04 279.28 L123.28 279.28 L123.28 278.86 L125.52 278.86 L125.52 278.44 L127.76 278.44 L127.76 278.02 L130 278.02 L130 277.6 L132.09 277.6 L132.09 277.44 L134.18 277.44 L134.18 277.29 L136.27 277.29 L136.27 277.13 L138.36 277.13 L138.36 276.98 L140.44 276.98 L140.44 276.82 L142.53 276.82 L142.53 276.67 L144.62 276.67 L144.62 276.51 L146.71 276.51 L146.71 276.36 L148.8 276.36 L148.8 276.2 L150.98 276.2 L150.98 275.93 L153.17 275.93 L153.17 275.67 L155.35 275.67 L155.35 275.4 L157.53 275.4 L157.53 275.13 L159.72 275.13 L159.72 274.87 L161.9 274.87 L161.9 274.6 L163.92 274.6 L163.92 274.48 L165.94 274.48 L165.94 274.36 L167.96 274.36 L167.96 274.24 L169.98 274.24 L169.98 274.12 L172 274.12 L172 274 L178.8 274 L178.8 273.4 L205.5 273.4 L205.5 272.9 L226.7 272.9 L226.7 272.2 L243.2 272.2 L243.2 274 L226.7 274 L226.7 274.6 L205.5 274.6 L205.5 275.1 L178.8 275.1 L178.8 275.8 L172 275.8 L172 275.96 L170 275.96 L170 276.12 L168 276.12 L168 276.28 L166 276.28 L166 276.44 L164 276.44 L164 276.6 L162 276.6 L162 276.77 L159.87 276.77 L159.87 276.93 L157.73 276.93 L157.73 277.1 L155.6 277.1 L155.6 277.27 L153.47 277.27 L153.47 277.43 L151.33 277.43 L151.33 277.6 L149.2 277.6 L149.2 277.77 L147.07 277.77 L147.07 277.93 L144.93 277.93 L144.93 278.1 L142.8 278.1 L142.8 278.27 L140.67 278.27 L140.67 278.43 L138.53 278.43 L138.53 278.6 L136.4 278.6 L136.4 278.77 L134.27 278.77 L134.27 278.93 L132.13 278.93 L132.13 279.1 L130 279.1 L130 279.52 L127.76 279.52 L127.76 279.94 L125.52 279.94 L125.52 280.36 L123.28 280.36 L123.28 280.78 L121.04 280.78 L121.04 281.2 L118.8 281.2 L118.8 282.07 L116.55 282.07 L116.55 282.94 L114.3 282.94 L114.3 283.81 L112.05 283.81 L112.05 284.68 L109.8 284.68 L109.8 285.55 L107.55 285.55 L107.55 286.42 L105.3 286.42 L105.3 287.29 L103.05 287.29 L103.05 288.16 L100.8 288.16 L100.8 289.03 L98.55 289.03 L98.55 289.9 L96.3 289.9 L96.3 290.7 L93.97 290.7 L93.97 291.5 L91.64 291.5 L91.64 292.3 L89.31 292.3 L89.31 293.1 L86.99 293.1 L86.99 293.9 L84.66 293.9 L84.66 294.7 L82.33 294.7 L82.33 295.5 L80 295.5 L80 296.5 L78.08 296.5 L78.08 297.5 L76.15 297.5 L76.15 298.5 L74.22 298.5 L74.22 299.5 L72.3 299.5 L72.3 301 L70.8 301 L70.8 301.96 L68.64 301.96 L68.64 302.92 L66.48 302.92 L66.48 303.88 L64.32 303.88 L64.32 304.84 L62.16 304.84 L62.16 305.8 L60 305.8 L60 306.63 L57.77 306.63 L57.77 307.47 L55.53 307.47 L55.53 308.3 L53.3 308.3Z" fill="#fdf0dd"/>
<path d="M53.3 308.3H55.39V308.26H57.47V308.23H59.56V308.19H61.65V308.15H63.74V308.11H65.83V308.07H67.91V308.04H70V308H72.3V306.5H74.22V306.05H76.15V305.6H78.08V305.15H80V304.7H82.33V304.33H84.66V303.96H86.99V303.59H89.31V303.21H91.64V302.84H93.97V302.47H96.3V302.1H98.6V301.73H100.9V301.35H103.2V300.98H105.5V300.6H107.72V300.25H109.93V299.9H112.15V299.55H114.37V299.2H116.58V298.85H118.8V298.5H121.04V298.22H123.28V297.94H125.52V297.66H127.76V297.38H130V297.1H132.13V297.01H134.27V296.93H136.4V296.84H138.53V296.75H140.67V296.67H142.8V296.58H144.93V296.49H147.07V296.41H149.2V296.32H151.33V296.23H153.47V296.15H155.6V296.06H157.73V295.97H159.87V295.89H162V295.8H164V295.66H166V295.52H168V295.38H170V295.24H172V295.1H178.8V294.6H205.5V294.3H226.7V294H243.2" fill="none" stroke="#c2234a" stroke-width="1.4" stroke-linejoin="miter"/>
<path d="M53.3 308.3H55.53V308.03H57.77V307.77H60V307.5H62V307.14H64V306.78H66V306.42H68V306.06H70V305.7H72.3V304.3H74.22V303.62H76.15V302.95H78.08V302.28H80V301.6H82.33V301.23H84.66V300.86H86.99V300.49H89.31V300.11H91.64V299.74H93.97V299.37H96.3V299H98.6V298.5H100.9V298H103.2V297.5H105.5V297H107.72V296.48H109.93V295.97H112.15V295.45H114.37V294.93H116.58V294.42H118.8V293.9H121.04V293.7H123.28V293.5H125.52V293.3H127.76V293.1H130V292.9H132.13V292.79H134.27V292.67H136.4V292.56H138.53V292.45H140.67V292.33H142.8V292.22H144.93V292.11H147.07V291.99H149.2V291.88H151.33V291.77H153.47V291.65H155.6V291.54H157.73V291.43H159.87V291.31H162V291.2H164V291.12H166V291.04H168V290.96H170V290.88H172V290.8H178.8V290.5H205.5V289.7H226.7V289.2H243.2" fill="none" stroke="#1d5a88" stroke-width="1.4" stroke-linejoin="miter"/>
<path d="M53.3 308.3H55.53V307.8H57.77V307.3H60V306.8H62V306.24H64V305.68H66V305.12H68V304.56H70V304H72.3V302H74.22V300.75H76.15V299.5H78.08V298.25H80V297H82.33V296.41H84.66V295.83H86.99V295.24H89.31V294.66H91.64V294.07H93.97V293.49H96.3V292.9H98.6V292.27H100.9V291.65H103.2V291.02H105.5V290.4H107.72V289.8H109.93V289.2H112.15V288.6H114.37V288H116.58V287.4H118.8V286.8H121.04V286.5H123.28V286.2H125.52V285.9H127.76V285.6H130V285.3H132.13V285.18H134.27V285.06H136.4V284.94H138.53V284.82H140.67V284.7H142.8V284.58H144.93V284.46H147.07V284.34H149.2V284.22H151.33V284.1H153.47V283.98H155.6V283.86H157.73V283.74H159.87V283.62H162V283.5H164V283.36H166V283.22H168V283.08H170V282.94H172V282.8H178.8V282.3H205.5V281.5H226.7V280.8H243.2" fill="none" stroke="#3aab4f" stroke-width="1.4" stroke-linejoin="miter"/>
<path d="M53.3 308.3H55.53V307.47H57.77V306.63H60V305.8H62.16V304.84H64.32V303.88H66.48V302.92H68.64V301.96H70.8V301H72.3V299.5H74.22V298.5H76.15V297.5H78.08V296.5H80V295.5H82.33V294.7H84.66V293.9H86.99V293.1H89.31V292.3H91.64V291.5H93.97V290.7H96.3V289.9H98.55V289.03H100.8V288.16H103.05V287.29H105.3V286.42H107.55V285.55H109.8V284.68H112.05V283.81H114.3V282.94H116.55V282.07H118.8V281.2H121.04V280.78H123.28V280.36H125.52V279.94H127.76V279.52H130V279.1H132.13V278.93H134.27V278.77H136.4V278.6H138.53V278.43H140.67V278.27H142.8V278.1H144.93V277.93H147.07V277.77H149.2V277.6H151.33V277.43H153.47V277.27H155.6V277.1H157.73V276.93H159.87V276.77H162V276.6H164V276.44H166V276.28H168V276.12H170V275.96H172V275.8H178.8V275.1H205.5V274.6H226.7V274H243.2" fill="none" stroke="#66398a" stroke-width="1.4" stroke-linejoin="miter"/>
<path d="M53.3 308.3H55.53V307.17H57.77V306.03H60V304.9H62.16V303.82H64.32V302.74H66.48V301.66H68.64V300.58H70.8V299.5H72.3V297.8H74.22V296.95H76.15V296.1H78.08V295.25H80V294.4H82.04V293.8H84.08V293.2H86.12V292.6H88.16V292H90.2V291.4H92.23V290.2H94.27V289H96.3V287.8H98.6V287.05H100.9V286.3H103.2V285.55H105.5V284.8H107.72V283.95H109.93V283.1H112.15V282.25H114.37V281.4H116.58V280.55H118.8V279.7H121.04V279.28H123.28V278.86H125.52V278.44H127.76V278.02H130V277.6H132.09V277.44H134.18V277.29H136.27V277.13H138.36V276.98H140.44V276.82H142.53V276.67H144.62V276.51H146.71V276.36H148.8V276.2H150.98V275.93H153.17V275.67H155.35V275.4H157.53V275.13H159.72V274.87H161.9V274.6H163.92V274.48H165.94V274.36H167.96V274.24H169.98V274.12H172V274H178.8V273.4H205.5V272.9H226.7V272.2H243.2" fill="none" stroke="#f39a2b" stroke-width="1.4" stroke-linejoin="miter"/>
<rect x="45.5" y="208.4" width="205.5" height="103.8" fill="none" stroke="#333333" stroke-width="1.3"/>
<line x1="42.2" y1="308.3" x2="45.4" y2="308.3" stroke="#333333" stroke-width="1"/>
<text transform="translate(40,310.8) scale(1.05,1)" font-size="7.4" fill="#222222" text-anchor="end">0%</text>
<line x1="42.2" y1="284.2" x2="45.4" y2="284.2" stroke="#333333" stroke-width="1"/>
<text transform="translate(40,286.7) scale(1.05,1)" font-size="7.4" fill="#222222" text-anchor="end">25%</text>
<line x1="42.2" y1="260.1" x2="45.4" y2="260.1" stroke="#333333" stroke-width="1"/>
<text transform="translate(40,262.6) scale(1.05,1)" font-size="7.4" fill="#222222" text-anchor="end">50%</text>
<line x1="42.2" y1="236.1" x2="45.4" y2="236.1" stroke="#333333" stroke-width="1"/>
<text transform="translate(40,238.6) scale(1.05,1)" font-size="7.4" fill="#222222" text-anchor="end">75%</text>
<line x1="42.2" y1="212" x2="45.4" y2="212" stroke="#333333" stroke-width="1"/>
<text transform="translate(40,214.5) scale(1.05,1)" font-size="7.4" fill="#222222" text-anchor="end">100%</text>
<line x1="53.3" y1="312.2" x2="53.3" y2="315.4" stroke="#333333" stroke-width="1"/>
<text x="53.3" y="324.6" font-size="7" fill="#222222" text-anchor="middle" font-weight="normal">0</text>
<line x1="91.28" y1="312.2" x2="91.28" y2="315.4" stroke="#333333" stroke-width="1"/>
<text x="91.28" y="324.6" font-size="7" fill="#222222" text-anchor="middle" font-weight="normal">1</text>
<line x1="129.26" y1="312.2" x2="129.26" y2="315.4" stroke="#333333" stroke-width="1"/>
<text x="129.26" y="324.6" font-size="7" fill="#222222" text-anchor="middle" font-weight="normal">2</text>
<line x1="167.24" y1="312.2" x2="167.24" y2="315.4" stroke="#333333" stroke-width="1"/>
<text x="167.24" y="324.6" font-size="7" fill="#222222" text-anchor="middle" font-weight="normal">3</text>
<line x1="205.22" y1="312.2" x2="205.22" y2="315.4" stroke="#333333" stroke-width="1"/>
<text x="205.22" y="324.6" font-size="7" fill="#222222" text-anchor="middle" font-weight="normal">4</text>
<line x1="243.2" y1="312.2" x2="243.2" y2="315.4" stroke="#333333" stroke-width="1"/>
<text x="243.2" y="324.6" font-size="7" fill="#222222" text-anchor="middle" font-weight="normal">5</text>
<text x="115.9" y="335.4" font-size="8.3" fill="#222222" text-anchor="start" font-weight="normal" textLength="64.2" lengthAdjust="spacingAndGlyphs">Time from HCT (years)</text>
<text transform="translate(15.4,258.1) rotate(-90)" x="0" y="0" font-size="9.4" fill="#222222" text-anchor="middle" textLength="53.4" lengthAdjust="spacingAndGlyphs">Cumulative incidence</text>
<text x="62.7" y="216.9" font-size="7" fill="#222222" text-anchor="start" font-weight="normal" textLength="50.4" lengthAdjust="spacingAndGlyphs">Causes of death</text>
<line x1="52.3" y1="224.8" x2="60.8" y2="224.8" stroke="#c2234a" stroke-width="1.4"/>
<text x="64.6" y="226.9" font-size="7" fill="#222222" text-anchor="start" font-weight="normal">Relapse/POD</text>
<line x1="52.3" y1="232.5" x2="60.8" y2="232.5" stroke="#1d5a88" stroke-width="1.4"/>
<text x="64.6" y="234.6" font-size="7" fill="#222222" text-anchor="start" font-weight="normal">Toxicity/Organ failure</text>
<line x1="52.3" y1="240" x2="60.8" y2="240" stroke="#3aab4f" stroke-width="1.4"/>
<text x="64.6" y="242.1" font-size="7" fill="#222222" text-anchor="start" font-weight="normal">Infection</text>
<line x1="52.3" y1="247.6" x2="60.8" y2="247.6" stroke="#66398a" stroke-width="1.4"/>
<text x="64.6" y="249.7" font-size="7" fill="#222222" text-anchor="start" font-weight="normal">GVHD</text>
<line x1="52.3" y1="255.3" x2="60.8" y2="255.3" stroke="#f39a2b" stroke-width="1.4"/>
<text x="64.6" y="257.4" font-size="7" fill="#222222" text-anchor="start" font-weight="normal">Other</text>
<text x="7.8" y="346.4" font-size="7" fill="#222222" text-anchor="start" font-weight="normal" textLength="37.3" lengthAdjust="spacingAndGlyphs">ATG 30–55</text>
<text x="53.9" y="346.9" font-size="7.5" fill="#c2234a" text-anchor="middle" font-weight="normal">391</text>
<text x="72.89" y="346.9" font-size="7.5" fill="#c2234a" text-anchor="middle" font-weight="normal">352</text>
<text x="91.88" y="346.9" font-size="7.5" fill="#c2234a" text-anchor="middle" font-weight="normal">312</text>
<text x="110.87" y="346.9" font-size="7.5" fill="#c2234a" text-anchor="middle" font-weight="normal">258</text>
<text x="129.86" y="346.9" font-size="7.5" fill="#c2234a" text-anchor="middle" font-weight="normal">201</text>
<text x="148.85" y="346.9" font-size="7.5" fill="#c2234a" text-anchor="middle" font-weight="normal">178</text>
<text x="167.84" y="346.9" font-size="7.5" fill="#c2234a" text-anchor="middle" font-weight="normal">158</text>
<text x="186.83" y="346.9" font-size="7.5" fill="#c2234a" text-anchor="middle" font-weight="normal">138</text>
<text x="205.82" y="346.9" font-size="7.5" fill="#c2234a" text-anchor="middle" font-weight="normal">115</text>
<text x="224.81" y="346.9" font-size="7.5" fill="#c2234a" text-anchor="middle" font-weight="normal">94</text>
<text x="243.8" y="346.9" font-size="7.5" fill="#c2234a" text-anchor="middle" font-weight="normal">68</text>
<path d="M313.7 308.4 L322 308.4 L322 307.6 L331 307.6 L331 306.8 L335 306.8 L335 305.4 L340 305.4 L340 304 L364.5 304 L364.5 302.9 L376.9 302.9 L376.9 301.6 L398.2 301.6 L398.2 300.1 L410.7 300.1 L410.7 299 L416.9 299 L416.9 298.2 L437.3 298.2 L437.3 297.4 L452.6 297.4 L452.6 295.7 L476.4 295.7 L476.4 294.1 L504.6 294.1 L504.6 308.4 L313.7 308.4Z" fill="#f2cdd4"/>
<path d="M313.7 308.4 L322 308.4 L322 306.5 L331 306.5 L331 304 L336 304 L336 301.7 L338 301.7 L338 299.7 L341 299.7 L341 298.3 L351.2 298.3 L351.2 297.4 L364.5 297.4 L364.5 295.8 L370.7 295.8 L370.7 294.7 L376.9 294.7 L376.9 293.7 L410.7 293.7 L410.7 292 L416.9 292 L416.9 290.6 L437.3 290.6 L437.3 289.2 L452.6 289.2 L452.6 287.5 L476.4 287.5 L476.4 286 L504.6 286 L504.6 294.1 L476.4 294.1 L476.4 295.7 L452.6 295.7 L452.6 297.4 L437.3 297.4 L437.3 298.2 L416.9 298.2 L416.9 299 L410.7 299 L410.7 300.1 L398.2 300.1 L398.2 301.6 L376.9 301.6 L376.9 302.9 L364.5 302.9 L364.5 304 L340 304 L340 305.4 L335 305.4 L335 306.8 L331 306.8 L331 307.6 L322 307.6 L322 308.4 L313.7 308.4Z" fill="#cfe0ec"/>
<path d="M313.7 308.4 L318 308.4 L318 307.4 L322 307.4 L322 304 L327 304 L327 302.3 L331 302.3 L331 300.6 L333.5 300.6 L333.5 297.5 L336 297.5 L336 294.4 L338.5 294.4 L338.5 290.7 L341 290.7 L341 287 L345 287 L345 285.4 L351.2 285.4 L351.2 283.8 L358.2 283.8 L358.2 283 L364.5 283 L364.5 281.5 L370.7 281.5 L370.7 280.4 L376.9 280.4 L376.9 279.2 L398.2 279.2 L398.2 277.7 L402.1 277.7 L402.1 277.2 L410.7 277.2 L410.7 275.7 L413.8 275.7 L413.8 274.6 L416.9 274.6 L416.9 273.4 L437.3 273.4 L437.3 272.5 L452.6 272.5 L452.6 271.3 L476.4 271.3 L476.4 269.4 L504.6 269.4 L504.6 286 L476.4 286 L476.4 287.5 L452.6 287.5 L452.6 289.2 L437.3 289.2 L437.3 290.6 L416.9 290.6 L416.9 292 L410.7 292 L410.7 293.7 L376.9 293.7 L376.9 294.7 L370.7 294.7 L370.7 295.8 L364.5 295.8 L364.5 297.4 L351.2 297.4 L351.2 298.3 L341 298.3 L341 299.7 L338 299.7 L338 301.7 L336 301.7 L336 304 L331 304 L331 306.5 L322 306.5 L322 308.4 L313.7 308.4Z" fill="#d5ecd6"/>
<path d="M313.7 308.4 L317.1 308.4 L317.1 306.5 L321.6 306.5 L321.6 302.3 L326.7 302.3 L326.7 300 L330.7 300 L330.7 297.5 L332.42 297.5 L332.42 294.9 L334.13 294.9 L334.13 292.3 L335.85 292.3 L335.85 289.7 L337.57 289.7 L337.57 287.1 L339.28 287.1 L339.28 284.5 L341 284.5 L341 281.9 L345 281.9 L345 281.1 L351.2 281.1 L351.2 278.3 L358.2 278.3 L358.2 275.5 L364.5 275.5 L364.5 272.1 L366 272.1 L366 271 L370.7 271 L370.7 269.8 L376.9 269.8 L376.9 268.7 L398.2 268.7 L398.2 267.9 L402.1 267.9 L402.1 266.9 L410.7 266.9 L410.7 265.6 L413.8 265.6 L413.8 264 L416.9 264 L416.9 262.4 L437.3 262.4 L437.3 261.1 L442.4 261.1 L442.4 259.4 L452.6 259.4 L452.6 258.3 L476.4 258.3 L476.4 256.3 L504.6 256.3 L504.6 269.4 L476.4 269.4 L476.4 271.3 L452.6 271.3 L452.6 272.5 L437.3 272.5 L437.3 273.4 L416.9 273.4 L416.9 274.6 L413.8 274.6 L413.8 275.7 L410.7 275.7 L410.7 277.2 L402.1 277.2 L402.1 277.7 L398.2 277.7 L398.2 279.2 L376.9 279.2 L376.9 280.4 L370.7 280.4 L370.7 281.5 L364.5 281.5 L364.5 283 L358.2 283 L358.2 283.8 L351.2 283.8 L351.2 285.4 L345 285.4 L345 287 L341 287 L341 290.7 L338.5 290.7 L338.5 294.4 L336 294.4 L336 297.5 L333.5 297.5 L333.5 300.6 L331 300.6 L331 302.3 L327 302.3 L327 304 L322 304 L322 307.4 L318 307.4 L318 308.4 L313.7 308.4Z" fill="#ddd0e6"/>
<path d="M313.7 308.4 L316.2 308.4 L316.2 306 L317.4 306 L317.4 304 L321.6 304 L321.6 300 L326.7 300 L326.7 297.2 L330.7 297.2 L330.7 295 L332.3 295 L332.3 292.43 L333.9 292.43 L333.9 289.87 L335.5 289.87 L335.5 287.3 L337.1 287.3 L337.1 284.73 L338.7 284.73 L338.7 282.17 L340.3 282.17 L340.3 279.6 L344.9 279.6 L344.9 279 L351.2 279 L351.2 275.2 L358.2 275.2 L358.2 272.9 L364.5 272.9 L364.5 269.8 L366 269.8 L366 268.7 L370.7 268.7 L370.7 267.5 L376.9 267.5 L376.9 266.2 L398.2 266.2 L398.2 264.8 L402.1 264.8 L402.1 264.3 L410.7 264.3 L410.7 262.8 L413.8 262.8 L413.8 261.2 L416.9 261.2 L416.9 259.6 L437.3 259.6 L437.3 258.3 L442.4 258.3 L442.4 256.6 L452.6 256.6 L452.6 255.2 L476.4 255.2 L476.4 252.6 L504.6 252.6 L504.6 256.3 L476.4 256.3 L476.4 258.3 L452.6 258.3 L452.6 259.4 L442.4 259.4 L442.4 261.1 L437.3 261.1 L437.3 262.4 L416.9 262.4 L416.9 264 L413.8 264 L413.8 265.6 L410.7 265.6 L410.7 266.9 L402.1 266.9 L402.1 267.9 L398.2 267.9 L398.2 268.7 L376.9 268.7 L376.9 269.8 L370.7 269.8 L370.7 271 L366 271 L366 272.1 L364.5 272.1 L364.5 275.5 L358.2 275.5 L358.2 278.3 L351.2 278.3 L351.2 281.1 L345 281.1 L345 281.9 L341 281.9 L341 284.5 L339.28 284.5 L339.28 287.1 L337.57 287.1 L337.57 289.7 L335.85 289.7 L335.85 292.3 L334.13 292.3 L334.13 294.9 L332.42 294.9 L332.42 297.5 L330.7 297.5 L330.7 300 L326.7 300 L326.7 302.3 L321.6 302.3 L321.6 306.5 L317.1 306.5 L317.1 308.4 L313.7 308.4Z" fill="#fdf0dd"/>
<path d="M313.7 308.4H322V307.6H331V306.8H335V305.4H340V304H364.5V302.9H376.9V301.6H398.2V300.1H410.7V299H416.9V298.2H437.3V297.4H452.6V295.7H476.4V294.1H504.6" fill="none" stroke="#c2234a" stroke-width="1.4" stroke-linejoin="miter"/>
<path d="M313.7 308.4H322V306.5H331V304H336V301.7H338V299.7H341V298.3H351.2V297.4H364.5V295.8H370.7V294.7H376.9V293.7H410.7V292H416.9V290.6H437.3V289.2H452.6V287.5H476.4V286H504.6" fill="none" stroke="#1d5a88" stroke-width="1.4" stroke-linejoin="miter"/>
<path d="M313.7 308.4H318V307.4H322V304H327V302.3H331V300.6H333.5V297.5H336V294.4H338.5V290.7H341V287H345V285.4H351.2V283.8H358.2V283H364.5V281.5H370.7V280.4H376.9V279.2H398.2V277.7H402.1V277.2H410.7V275.7H413.8V274.6H416.9V273.4H437.3V272.5H452.6V271.3H476.4V269.4H504.6" fill="none" stroke="#3aab4f" stroke-width="1.4" stroke-linejoin="miter"/>
<path d="M313.7 308.4H317.1V306.5H321.6V302.3H326.7V300H330.7V297.5H332.42V294.9H334.13V292.3H335.85V289.7H337.57V287.1H339.28V284.5H341V281.9H345V281.1H351.2V278.3H358.2V275.5H364.5V272.1H366V271H370.7V269.8H376.9V268.7H398.2V267.9H402.1V266.9H410.7V265.6H413.8V264H416.9V262.4H437.3V261.1H442.4V259.4H452.6V258.3H476.4V256.3H504.6" fill="none" stroke="#66398a" stroke-width="1.4" stroke-linejoin="miter"/>
<path d="M313.7 308.4H316.2V306H317.4V304H321.6V300H326.7V297.2H330.7V295H332.3V292.43H333.9V289.87H335.5V287.3H337.1V284.73H338.7V282.17H340.3V279.6H344.9V279H351.2V275.2H358.2V272.9H364.5V269.8H366V268.7H370.7V267.5H376.9V266.2H398.2V264.8H402.1V264.3H410.7V262.8H413.8V261.2H416.9V259.6H437.3V258.3H442.4V256.6H452.6V255.2H476.4V252.6H504.6" fill="none" stroke="#f39a2b" stroke-width="1.4" stroke-linejoin="miter"/>
<rect x="306.1" y="208.3" width="206.4" height="103.9" fill="none" stroke="#333333" stroke-width="1.3"/>
<line x1="303" y1="308.4" x2="306.2" y2="308.4" stroke="#333333" stroke-width="1"/>
<text transform="translate(300,310.9) scale(1.05,1)" font-size="7.4" fill="#222222" text-anchor="end">0%</text>
<line x1="303" y1="284.2" x2="306.2" y2="284.2" stroke="#333333" stroke-width="1"/>
<text transform="translate(300,286.7) scale(1.05,1)" font-size="7.4" fill="#222222" text-anchor="end">25%</text>
<line x1="303" y1="260" x2="306.2" y2="260" stroke="#333333" stroke-width="1"/>
<text transform="translate(300,262.5) scale(1.05,1)" font-size="7.4" fill="#222222" text-anchor="end">50%</text>
<line x1="303" y1="235.7" x2="306.2" y2="235.7" stroke="#333333" stroke-width="1"/>
<text transform="translate(300,238.2) scale(1.05,1)" font-size="7.4" fill="#222222" text-anchor="end">75%</text>
<line x1="303" y1="211.5" x2="306.2" y2="211.5" stroke="#333333" stroke-width="1"/>
<text transform="translate(300,214) scale(1.05,1)" font-size="7.4" fill="#222222" text-anchor="end">100%</text>
<line x1="313.8" y1="312.2" x2="313.8" y2="315.4" stroke="#333333" stroke-width="1"/>
<text x="313.8" y="324.6" font-size="7" fill="#222222" text-anchor="middle" font-weight="normal">0</text>
<line x1="351.9" y1="312.2" x2="351.9" y2="315.4" stroke="#333333" stroke-width="1"/>
<text x="351.9" y="324.6" font-size="7" fill="#222222" text-anchor="middle" font-weight="normal">1</text>
<line x1="390" y1="312.2" x2="390" y2="315.4" stroke="#333333" stroke-width="1"/>
<text x="390" y="324.6" font-size="7" fill="#222222" text-anchor="middle" font-weight="normal">2</text>
<line x1="428.1" y1="312.2" x2="428.1" y2="315.4" stroke="#333333" stroke-width="1"/>
<text x="428.1" y="324.6" font-size="7" fill="#222222" text-anchor="middle" font-weight="normal">3</text>
<line x1="466.2" y1="312.2" x2="466.2" y2="315.4" stroke="#333333" stroke-width="1"/>
<text x="466.2" y="324.6" font-size="7" fill="#222222" text-anchor="middle" font-weight="normal">4</text>
<line x1="504.3" y1="312.2" x2="504.3" y2="315.4" stroke="#333333" stroke-width="1"/>
<text x="504.3" y="324.6" font-size="7" fill="#222222" text-anchor="middle" font-weight="normal">5</text>
<text x="376.3" y="335.4" font-size="8.3" fill="#222222" text-anchor="start" font-weight="normal" textLength="64.2" lengthAdjust="spacingAndGlyphs">Time from HCT (years)</text>
<text transform="translate(272.9,258.2) rotate(-90)" x="0" y="0" font-size="9.4" fill="#222222" text-anchor="middle" textLength="55.4" lengthAdjust="spacingAndGlyphs">Cumulative incidence</text>
<text x="323.2" y="216.9" font-size="7" fill="#222222" text-anchor="start" font-weight="normal" textLength="50.4" lengthAdjust="spacingAndGlyphs">Causes of death</text>
<line x1="312.7" y1="224.8" x2="321.3" y2="224.8" stroke="#c2234a" stroke-width="1.4"/>
<text x="325.6" y="226.9" font-size="7" fill="#222222" text-anchor="start" font-weight="normal">Relapse/POD</text>
<line x1="312.7" y1="232.5" x2="321.3" y2="232.5" stroke="#1d5a88" stroke-width="1.4"/>
<text x="325.6" y="234.6" font-size="7" fill="#222222" text-anchor="start" font-weight="normal">Toxicity/Organ failure</text>
<line x1="312.7" y1="240" x2="321.3" y2="240" stroke="#3aab4f" stroke-width="1.4"/>
<text x="325.6" y="242.1" font-size="7" fill="#222222" text-anchor="start" font-weight="normal">Infection</text>
<line x1="312.7" y1="247.6" x2="321.3" y2="247.6" stroke="#66398a" stroke-width="1.4"/>
<text x="325.6" y="249.7" font-size="7" fill="#222222" text-anchor="start" font-weight="normal">GVHD</text>
<line x1="312.7" y1="255.3" x2="321.3" y2="255.3" stroke="#f39a2b" stroke-width="1.4"/>
<text x="325.6" y="257.4" font-size="7" fill="#222222" text-anchor="start" font-weight="normal">Other</text>
<text x="291" y="346.4" font-size="7" fill="#222222" text-anchor="start" font-weight="normal" textLength="12.5" lengthAdjust="spacingAndGlyphs">≥55</text>
<text x="315" y="346.9" font-size="7.5" fill="#c2234a" text-anchor="middle" font-weight="normal">100</text>
<text x="334.03" y="346.9" font-size="7.5" fill="#c2234a" text-anchor="middle" font-weight="normal">83</text>
<text x="353.06" y="346.9" font-size="7.5" fill="#c2234a" text-anchor="middle" font-weight="normal">65</text>
<text x="372.09" y="346.9" font-size="7.5" fill="#c2234a" text-anchor="middle" font-weight="normal">56</text>
<text x="391.12" y="346.9" font-size="7.5" fill="#c2234a" text-anchor="middle" font-weight="normal">49</text>
<text x="410.15" y="346.9" font-size="7.5" fill="#c2234a" text-anchor="middle" font-weight="normal">44</text>
<text x="429.18" y="346.9" font-size="7.5" fill="#c2234a" text-anchor="middle" font-weight="normal">38</text>
<text x="448.21" y="346.9" font-size="7.5" fill="#c2234a" text-anchor="middle" font-weight="normal">32</text>
<text x="467.24" y="346.9" font-size="7.5" fill="#c2234a" text-anchor="middle" font-weight="normal">29</text>
<text x="486.27" y="346.9" font-size="7.5" fill="#c2234a" text-anchor="middle" font-weight="normal">22</text>
<text x="505.3" y="346.9" font-size="7.5" fill="#c2234a" text-anchor="middle" font-weight="normal">16</text>
<rect x="0.5" y="0.5" width="519" height="352" fill="none" stroke="#111" stroke-width="1.2"/>
</svg></body></html>
